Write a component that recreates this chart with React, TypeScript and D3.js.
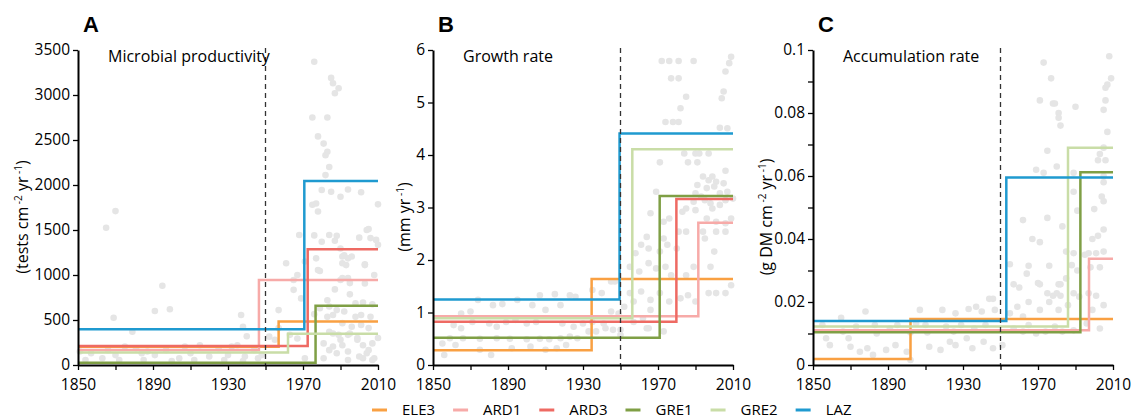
import React, { useEffect, useRef } from 'react'
import * as d3 from 'd3'

const sites = ['ELE3', 'ARD1', 'ARD3', 'GRE1', 'GRE2', 'LAZ']
const siteColors = ['#f9a042', '#f7aaa8', '#ee6a63', '#7f9f45', '#c9dda7', '#1f9ad0']

const yearTicks = [1850, 1870, 1890, 1910, 1930, 1950, 1970, 1990, 2010]
const yearLabels = [1850, 1890, 1930, 1970, 2010]

// regime shift per site: year, mean before, mean after (null = no record)
const productivityShift = [1957, 1946.5, 1972.5, 1976.7, 1962, 1970.7]
const productivityBefore = [204, 167, 212, 25, 138, 396]
const productivityAfter = [482, 945, 1285, 659, 348, 2045]

const growthShift = [1934.6, 1991.5, 1979.8, 1970.9, 1956.3, 1949.5]
const growthBefore = [0.28, 0.93, 0.825, 0.52, 0.89, 1.25]
const growthAfter = [1.64, 2.71, 3.16, 3.22, 4.11, 4.41]

const accumulationShift = [1902, 1997.2, null, 1992.6, 1986, 1953.1]
const accumulationBefore = [0.0019, 0.011, null, 0.0104, 0.0122, 0.014]
const accumulationAfter = [0.0146, 0.0337, null, 0.0612, 0.069, 0.0595]

// raw core samples [year, value]
const productivityPoints = [
	[1976, 3370], [1985, 3190], [1986, 3130], [1989, 3075], [1987, 3020], [1975, 2750], [1983, 2750],
	[1978, 2540], [1981, 2460], [1983, 2370], [1982, 2330], [1984, 2200], [1982, 2110], [1980, 1945],
	[1985, 1925], [1990, 1870], [1994, 1950], [2001, 1920], [2010, 1785], [1977, 1795], [1978, 1705],
	[1865, 1525], [1870, 1710], [1968, 1445], [1976, 1440], [1980, 1370], [1988, 1435], [1987, 1380],
	[2000, 1415], [2005, 1510], [2006, 1410], [2010, 1335], [1990, 1295], [1992, 1220], [1994, 1185],
	[1991, 1130], [2003, 1120], [1961, 1130], [1971, 1150], [1979, 1045], [1967, 1000], [1965, 945],
	[1991, 965], [1995, 910], [1987, 840], [1995, 785], [2008, 1000], [1965, 835], [1895, 880],
	[1891, 600], [1899, 620], [1869, 525], [1879, 370], [1957, 610], [1979, 630], [1984, 650],
	[1986, 555], [1976, 565], [1998, 685], [2002, 695], [2007, 675], [1991, 465], [1996, 425],
	[2001, 445], [2005, 410], [2010, 300], [1994, 335], [1999, 300], [1984, 370], [1989, 335],
	[1981, 240], [1986, 205], [1991, 220], [2002, 220], [2005, 165], [1957, 410], [1963, 335],
	[1967, 295], [1952, 315], [1955, 280], [1940, 320], [1937, 555], [1971, 75], [1981, 75],
	[1994, 55], [2002, 75], [2007, 55], [1851, 150], [1857, 130], [1866, 165], [1875, 205],
	[1881, 185], [1887, 150], [1891, 110], [1897, 165], [1904, 75], [1910, 130], [1915, 220],
	[1920, 95], [1925, 185], [1930, 110], [1935, 220], [1939, 95], [1944, 165], [1948, 110],
	[1854, 55], [1863, 75], [1872, 55], [1885, 55], [1900, 45], [1912, 55], [1928, 55], [1938, 45],
	[1870, 110], [1907, 205], [1932, 205], [1946, 75], [1884, 130], [1969, 740], [1975, 1780],
	[1984, 1445], [2004, 1500], [2009, 1390], [1977, 1185], [1991, 1205], [1993, 1110], [1996, 1205],
	[2003, 1110], [1978, 1055], [1990, 945], [1994, 965], [2003, 905], [1983, 720], [1988, 610],
	[1992, 595], [1998, 535], [2001, 555], [2006, 535], [1983, 535], [1986, 350], [1990, 280],
	[1995, 350], [1999, 280], [2007, 240], [1984, 165], [1988, 130], [1994, 150], [2000, 95],
	[2004, 130], [2008, 75], [1938, 425]
]

const growthPoints = [
	[1972, 5.79], [1976, 5.79], [1981, 5.79], [1989, 5.79], [2009, 5.87], [2008, 5.75], [1977, 5.46],
	[1981, 5.46], [2006, 5.59], [2005, 5.21], [2004, 5.08], [1985, 5.11], [1982, 4.89], [1974, 4.63],
	[1978, 4.63], [1981, 4.63], [2003, 4.52], [2007, 4.51], [1971, 3.86], [1984, 4.03], [1990, 4.03],
	[1992, 4.03], [1997, 4.03], [1986, 3.86], [1991, 3.86], [2006, 3.7], [1994, 3.59], [1997, 3.52],
	[1999, 3.59], [2001, 3.49], [2005, 3.46], [1991, 3.43], [1996, 3.37], [2000, 3.4], [2003, 3.27],
	[2007, 3.3], [1990, 3.27], [1993, 3.21], [1969, 3.3], [1989, 3.11], [1995, 3.14], [1998, 3.08],
	[2003, 3.05], [2006, 3.14], [2010, 3.17], [1985, 2.98], [1990, 2.95], [1999, 2.98], [1976, 2.79],
	[1983, 2.92], [1966, 2.89], [1973, 2.73], [1996, 2.79], [2001, 2.73], [2006, 2.7], [2009, 2.79],
	[1981, 2.54], [1985, 2.54], [1964, 2.44], [1973, 2.41], [1994, 2.54], [2001, 2.54], [2006, 2.54],
	[1961, 2.29], [1965, 2.22], [1971, 2.16], [1975, 2.29], [1980, 2.22], [1995, 2.41], [2000, 2.16],
	[1958, 2.13], [1955, 1.87], [1960, 1.78], [1965, 1.94], [1969, 1.84], [1974, 1.87], [1977, 1.71],
	[1985, 1.71], [1989, 1.87], [1998, 1.87], [1945, 1.59], [1947, 1.59], [1940, 1.37], [1935, 1.43],
	[1907, 1.33], [1915, 1.35], [1923, 1.33], [1926, 1.3], [1874, 1.24], [1882, 1.14], [1887, 1.16],
	[1895, 1.24], [1903, 1.14], [1910, 1.05], [1918, 1.14], [1865, 0.98], [1870, 1.02], [1955, 1.37],
	[1957, 1.21], [1961, 1.4], [1966, 1.24], [1971, 1.37], [1976, 1.21], [1982, 1.27], [1986, 1.33],
	[1990, 1.21], [1997, 1.37], [2001, 1.37], [2006, 1.37], [2009, 1.52], [1945, 1.02], [1949, 0.98],
	[1952, 1.11], [1957, 0.82], [1962, 0.89], [1966, 1.05], [1965, 0.7], [1950, 0.67], [1950, 0.57],
	[1942, 0.7], [1946, 0.67], [1937, 0.64], [1933, 0.64], [1927, 0.51], [1923, 0.54], [1918, 0.51],
	[1912, 0.49], [1907, 0.5], [1900, 0.49], [1891, 0.5], [1884, 0.51], [1875, 0.5], [1859, 0.51],
	[1855, 0.41], [1856, 0.19], [1862, 0.38], [1866, 0.51], [1875, 0.29], [1881, 0.19], [1892, 0.32],
	[1902, 0.35], [1910, 0.29], [1916, 0.32], [1921, 0.38], [1861, 0.76], [1865, 0.7], [1871, 0.82],
	[1880, 0.79], [1884, 0.73], [1889, 0.82], [1894, 0.86], [1900, 0.79], [1905, 0.82], [1919, 0.79],
	[1925, 0.73], [1930, 0.79], [1935, 0.82], [1941, 0.79], [1964, 0.7], [1973, 0.64]
]

const accumulationPoints = [
	[2008, 0.098], [1973, 0.096], [1977, 0.091], [2009, 0.091], [2007, 0.089], [2006, 0.088],
	[1971, 0.084], [1978, 0.083], [1979, 0.083], [1990, 0.082], [2006, 0.084], [2005, 0.081],
	[1981, 0.08], [1981, 0.0785], [1982, 0.076], [2007, 0.074], [1975, 0.068], [2005, 0.069],
	[2003, 0.067], [2002, 0.065], [2006, 0.065], [1980, 0.063], [1969, 0.062], [1973, 0.061],
	[1989, 0.061], [2005, 0.06], [2005, 0.058], [1989, 0.055], [2004, 0.0535], [2005, 0.052],
	[1991, 0.049], [2000, 0.0495], [1962, 0.046], [1975, 0.0467], [1983, 0.044], [2005, 0.043],
	[1967, 0.04], [1971, 0.039], [2002, 0.041], [1999, 0.04], [1995, 0.035], [1997, 0.0355],
	[2001, 0.0355], [2005, 0.036], [1985, 0.036], [1989, 0.0355], [1955, 0.032], [1965, 0.0315],
	[1976, 0.0315], [1988, 0.0317], [1991, 0.03], [1998, 0.031], [2003, 0.031], [1964, 0.029],
	[1970, 0.026], [1971, 0.0256], [1981, 0.0256], [1982, 0.0256], [1985, 0.0275], [1957, 0.0256],
	[1960, 0.0246], [1975, 0.0228], [1978, 0.022], [1980, 0.0228], [1982, 0.022], [1989, 0.0228],
	[1992, 0.0217], [1997, 0.0228], [2001, 0.022], [1965, 0.02], [1971, 0.0175], [1976, 0.02],
	[1981, 0.0175], [1986, 0.019], [2005, 0.019], [1999, 0.0175], [1946, 0.021], [1944, 0.021],
	[1937, 0.0185], [1933, 0.0178], [1940, 0.017], [1926, 0.0164], [1919, 0.0175], [1907, 0.0175],
	[1878, 0.017], [1865, 0.015], [1947, 0.0175], [1959, 0.0185], [1955, 0.0164], [1962, 0.0154],
	[1957, 0.0116], [1962, 0.0106], [1965, 0.0127], [1969, 0.01], [1974, 0.0106], [1979, 0.0122],
	[1983, 0.0106], [1989, 0.011], [1996, 0.0132], [2003, 0.0116], [1857, 0.0085], [1869, 0.0085],
	[1859, 0.0063], [1870, 0.0058], [1875, 0.0042], [1879, 0.0053], [1882, 0.0032], [1889, 0.0048],
	[1894, 0.0063], [1900, 0.0042], [1902, 0.0016], [1912, 0.0058], [1918, 0.0048], [1923, 0.0074],
	[1926, 0.0063], [1932, 0.0085], [1935, 0.0053], [1941, 0.0074], [1946, 0.0053], [1951, 0.0063],
	[1855, 0.0127], [1873, 0.0122], [1883, 0.0127], [1891, 0.0116], [1895, 0.0127], [1905, 0.0132],
	[1910, 0.0127], [1921, 0.0122], [1929, 0.0127], [1936, 0.0116], [1942, 0.0127], [1866, 0.0106],
	[1884, 0.01], [1902, 0.0103], [1911, 0.0103], [1925, 0.0106]
]

const font = "'Open Sans', sans-serif"

const panels = [
	{
		letter: 'A', title: 'Microbial productivity', left: 78, labelX: 28,
		unit: ['(tests cm', '-2', ' yr', '-1', ')'],
		max: 3500, ticks: d3.range(0, 3501, 500), fmt: (d, i) => String(d),
		points: productivityPoints, shift: productivityShift, before: productivityBefore, after: productivityAfter
	},
	{
		letter: 'B', title: 'Growth rate', left: 433, labelX: 410,
		unit: ['(mm yr', '-1', ')'],
		max: 6, ticks: d3.range(0, 7), fmt: (d, i) => String(d),
		points: growthPoints, shift: growthShift, before: growthBefore, after: growthAfter
	},
	{
		letter: 'C', title: 'Accumulation rate', left: 813, labelX: 772,
		unit: ['(g DM cm', '-2', ' yr', '-1', ')'],
		max: 0.1, ticks: d3.range(0, 11).map(i => i / 100),
		fmt: (d, i) => (i % 2 === 0 ? String(+d.toFixed(2)) : ''),
		points: accumulationPoints, shift: accumulationShift, before: accumulationBefore, after: accumulationAfter
	}
]

const App = () => {
	const ref = useRef(null)

	useEffect(() => {
		document.body.style.margin = '0'
		const svg = d3.select(ref.current)
		svg.selectAll('*').remove()

		const top = 50
		const bottom = 365
		const width = 300

		panels.forEach(p => {
			const x = d3.scaleLinear().domain([1850, 2010]).range([p.left, p.left + width])
			const y = d3.scaleLinear().domain([0, p.max]).range([bottom, top])
			const g = svg.append('g')

			g.selectAll('circle')
				.data(p.points)
				.enter()
				.append('circle')
				.attr('cx', d => x(d[0]))
				.attr('cy', d => y(d[1]))
				.attr('r', 3.3)
				.attr('fill', '#e5e5e5')

			const line = d3
				.line()
				.x(d => x(d[0]))
				.y(d => y(d[1]))
				.curve(d3.curveStepAfter)

			sites.forEach((s, i) => {
				if (p.shift[i] == null) return
				g.append('path')
					.attr('d', line([[1850, p.before[i]], [p.shift[i], p.after[i]], [2010, p.after[i]]]))
					.attr('fill', 'none')
					.attr('stroke', siteColors[i])
					.attr('stroke-width', 2.5)
			})

			g.append('line')
				.attr('x1', x(1950))
				.attr('x2', x(1950))
				.attr('y1', top - 2)
				.attr('y2', bottom)
				.attr('stroke', '#333')
				.attr('stroke-width', 1.3)
				.attr('stroke-dasharray', '5,4')

			const yAxis = d3.axisLeft(y).tickValues(p.ticks).tickFormat(p.fmt).tickSize(5).tickSizeOuter(0).tickPadding(3)
			const xAxis = d3
				.axisBottom(x)
				.tickValues(yearTicks)
				.tickFormat(d => (yearLabels.includes(d) ? String(d) : ''))
				.tickSize(5)
				.tickSizeOuter(0)
				.tickPadding(9)

			const ya = g.append('g').attr('transform', `translate(${p.left},0)`).call(yAxis)
			const xa = g.append('g').attr('transform', `translate(0,${bottom})`).call(xAxis)
			;[ya, xa].forEach(a => {
				a.select('.domain').attr('stroke', '#000').attr('stroke-width', 2)
				a.selectAll('.tick line').attr('stroke', '#000').attr('stroke-width', 1.3)
				a.selectAll('.tick text').attr('fill', '#000').style('font-family', font).style('font-size', '15.5px')
			})

			g.append('text')
				.text(p.letter)
				.attr('x', p.left + 5)
				.attr('y', 32)
				.style('font-family', 'Liberation Sans, Arial, sans-serif')
				.style('font-weight', 'bold')
				.style('font-size', '22px')

			g.append('text')
				.text(p.title)
				.attr('x', p.left + 30)
				.attr('y', 62)
				.style('font-family', font)
				.style('font-size', '16px')

			const lab = g.append('text')
				.attr('transform', `translate(${p.labelX},217) rotate(-90)`)
				.attr('text-anchor', 'middle')
				.style('font-family', font)
				.style('font-size', '16px')
			p.unit.forEach((t, i) => {
				const sup = i % 2 === 1
				lab.append('tspan')
					.text(sup ? ' ' + t : t)
					.attr('dy', sup ? -6 : i > 0 ? 6 : 0)
					.style('font-size', sup ? '10px' : '16px')
			})
		})

		const legend = svg.append('g').attr('transform', 'translate(0,410)')
		let lx = 372
		sites.forEach((s, i) => {
			legend.append('line')
				.attr('x1', lx)
				.attr('x2', lx + 15)
				.attr('stroke', siteColors[i])
				.attr('stroke-width', 3)
			const t = legend.append('text')
				.text(s)
				.attr('x', lx + 30)
				.attr('y', 4.5)
				.style('font-family', font)
				.style('font-size', '15px')
			lx += 30 + t.node().getComputedTextLength() + 18
		})
	}, [])

	return <svg ref={ref} width={1132} height={419} style={{ display: 'block' }}></svg>
}

export default App
